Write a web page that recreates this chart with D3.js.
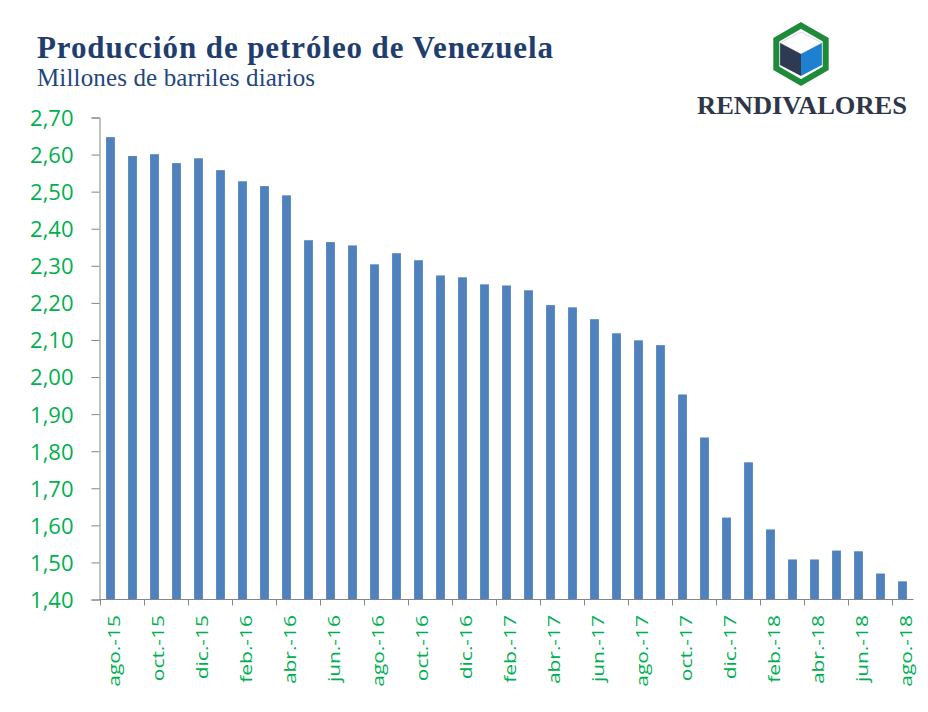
<!DOCTYPE html>
<html>
<head>
<meta charset="utf-8">
<script src="https://cdn.jsdelivr.net/npm/d3@7"></script>
<style>
  html, body { margin: 0; padding: 0; background: #ffffff; }
  svg { display: block; }
</style>
</head>
<body>
<svg id="chart" width="928" height="712"></svg>
<script>
// ---- Data ----
const categories = [
  "ago.-15","sep.-15","oct.-15","nov.-15","dic.-15","ene.-16","feb.-16","mar.-16","abr.-16","may.-16","jun.-16","jul.-16",
  "ago.-16","sep.-16","oct.-16","nov.-16","dic.-16","ene.-17","feb.-17","mar.-17","abr.-17","may.-17","jun.-17","jul.-17",
  "ago.-17","sep.-17","oct.-17","nov.-17","dic.-17","ene.-18","feb.-18","mar.-18","abr.-18","may.-18","jun.-18","jul.-18",
  "ago.-18"
];
const production = [
  2.647, 2.596, 2.601, 2.577, 2.590, 2.558, 2.528, 2.515, 2.490, 2.369, 2.364, 2.355,
  2.304, 2.334, 2.315, 2.274, 2.269, 2.250, 2.247, 2.234, 2.194, 2.188, 2.156, 2.118,
  2.099, 2.086, 1.953, 1.837, 1.621, 1.770, 1.589, 1.508, 1.508, 1.532, 1.530, 1.470,
  1.449
];
const xTickLabels = ["ago.-15","oct.-15","dic.-15","feb.-16","abr.-16","jun.-16","ago.-16","oct.-16","dic.-16",
  "feb.-17","abr.-17","jun.-17","ago.-17","oct.-17","dic.-17","feb.-18","abr.-18","jun.-18","ago.-18"];
const yTicks = [1.40, 1.50, 1.60, 1.70, 1.80, 1.90, 2.00, 2.10, 2.20, 2.30, 2.40, 2.50, 2.60, 2.70];
const titleText = "Producción de petróleo de Venezuela";
const subtitleText = "Millones de barriles diarios";
const brandText = "RENDIVALORES";

// ---- Layout ----
const svg = d3.select("#chart");
const plot = { left: 99.5, right: 913.5, top: 117.5, bottom: 599.5 };
const green = "#00B050";
const axisColor = "#868686";
const labelFont = "'Open Sans', 'Liberation Sans', Arial, sans-serif";

const x = d3.scaleBand()
  .domain(categories)
  .range([plot.left, plot.right])
  .paddingInner(0.6)
  .paddingOuter(0.3);

const y = d3.scaleLinear()
  .domain([d3.min(yTicks), d3.max(yTicks)])
  .range([plot.bottom, plot.top]);

const fmt = d3.formatLocale({ decimal: ",", thousands: ".", grouping: [3], currency: ["", ""] }).format(".2f");

// Bars
svg.append("g")
  .selectAll("rect")
  .data(production)
  .join("rect")
  .attr("x", (d, i) => x(categories[i]))
  .attr("width", x.bandwidth())
  .attr("y", d => y(d))
  .attr("height", d => y(y.domain()[0]) - y(d))
  .attr("fill", "#4F81BD");

// Y axis
const yAxis = svg.append("g")
  .attr("transform", `translate(${plot.left},0)`)
  .call(d3.axisLeft(y).tickValues(yTicks).tickSize(8).tickPadding(18).tickFormat(fmt));
yAxis.select(".domain").attr("stroke", axisColor);
yAxis.selectAll(".tick line").attr("stroke", axisColor);
yAxis.selectAll(".tick text")
  .attr("fill", green)
  .attr("font-family", labelFont)
  .attr("font-size", 22)
  .attr("dy", "0.36em");

// X axis line
svg.append("line")
  .attr("x1", plot.left).attr("x2", plot.right)
  .attr("y1", plot.bottom).attr("y2", plot.bottom)
  .attr("stroke", axisColor);

// X ticks at boundaries every 2 categories
const step = x.step();
const boundary = c => x(c) - x.paddingOuter() * step;
const xt = svg.append("g");
xTickLabels.forEach(lbl => {
  const bx = Math.round(boundary(lbl)) + 0.5;
  xt.append("line")
    .attr("x1", bx).attr("x2", bx)
    .attr("y1", plot.bottom).attr("y2", plot.bottom + 6)
    .attr("stroke", axisColor);
  const cx = x(lbl) + x.bandwidth() / 2;
  xt.append("text")
    .attr("transform", `translate(${cx + 9},615) rotate(-90) scale(1.23,1)`)
    .attr("text-anchor", "end")
    .attr("fill", green)
    .attr("font-family", labelFont)
    .attr("font-size", 17)
    .text(lbl);
});

// Titles
svg.append("text")
  .attr("x", 37).attr("y", 58)
  .attr("font-family", "'Liberation Serif', 'Times New Roman', serif")
  .attr("font-weight", "bold")
  .attr("font-size", 31)
  .attr("fill", "#1F3D6E")
  .attr("textLength", 516)
  .attr("lengthAdjust", "spacing")
  .text(titleText);

svg.append("text")
  .attr("x", 37).attr("y", 86)
  .attr("font-family", "'Liberation Serif', 'Times New Roman', serif")
  .attr("font-size", 25)
  .attr("fill", "#24467A")
  .attr("textLength", 278)
  .attr("lengthAdjust", "spacing")
  .text(subtitleText);

// Logo
const logo = svg.append("g").attr("transform", "translate(801,54)");
const hex = d3.range(6).map(k => {
  const a = -Math.PI / 2 + k * Math.PI / 3;
  return [28.5 * Math.cos(a), 28.5 * Math.sin(a)];
});
logo.append("polygon")
  .attr("points", hex.map(p => p.join(",")).join(" "))
  .attr("fill", "#ffffff")
  .attr("stroke", "#1E8B3B")
  .attr("stroke-width", 6);
const r = 22;
const cube = {
  top: [0, -r], ul: [-r * 0.95, -r / 2], ll: [-r * 0.95, r / 2], bot: [0, r],
  lr: [r * 0.95, r / 2], ur: [r * 0.95, -r / 2], c: [0, 0]
};
const poly = pts => pts.map(p => p.join(",")).join(" ");
logo.append("polygon").attr("points", poly([cube.top, cube.ur, cube.c, cube.ul]))
  .attr("fill", "#ffffff").attr("stroke", "#d8dde4").attr("stroke-width", 1);
logo.append("polygon").attr("points", poly([cube.ul, cube.c, cube.bot, cube.ll]))
  .attr("fill", "#2D3A52");
logo.append("polygon").attr("points", poly([cube.c, cube.ur, cube.lr, cube.bot]))
  .attr("fill", "#1F80D0");

svg.append("text")
  .attr("x", 697).attr("y", 114)
  .attr("font-family", "'Liberation Serif', 'Times New Roman', serif")
  .attr("font-weight", "bold")
  .attr("font-size", 26)
  .attr("fill", "#2E3648")
  .attr("textLength", 210)
  .attr("lengthAdjust", "spacingAndGlyphs")
  .text(brandText);
</script>
</body>
</html>
